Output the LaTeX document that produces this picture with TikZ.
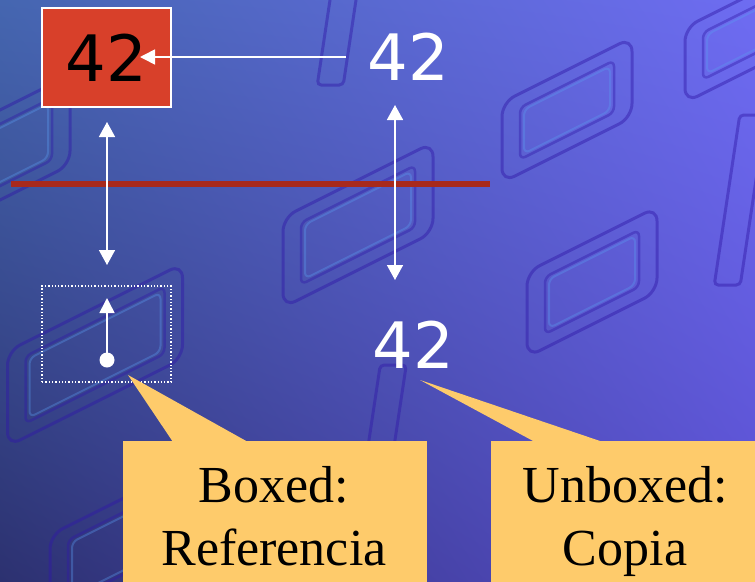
\documentclass[tikz,border=0pt]{standalone}
\usepackage{fontspec}
\setmainfont{Liberation Serif}
\newfontfamily\numfont{DejaVu Sans}
\usetikzlibrary{arrows.meta,shadings}
\definecolor{boxred}{HTML}{D8402A}
\definecolor{linered}{HTML}{A8291C}
\definecolor{callout}{HTML}{FECB6B}
\definecolor{bgUL}{HTML}{4566B0}
\definecolor{bgUR}{HTML}{6E6CF2}
\definecolor{bgLL}{HTML}{2C3170}
\definecolor{bgLR}{HTML}{5A4FD0}
\definecolor{zeroline}{HTML}{3018A8}
\definecolor{zerohi}{HTML}{5A9CF0}
\tikzset{
  numtxt/.style={font=\numfont\fontsize{64}{64}\selectfont, inner sep=0pt},
  warrow/.style={draw=white, line width=1.6pt, -{Triangle[length=15pt,width=15pt]}},
  wdouble/.style={draw=white, line width=1.6pt, {Triangle[length=15pt,width=16pt]}-{Triangle[length=15pt,width=16pt]}},
  calloutbox/.style={fill=callout, inner sep=0pt},
  callouttxt/.style={font=\fontsize{52}{63}\selectfont, align=center, inner sep=0pt, text=black},
  zerooutline/.style={draw=zeroline, line width=3pt, opacity=0.45, rounded corners=14pt},
  zeroinner/.style={draw=zeroline, line width=2.5pt, opacity=0.4, rounded corners=6pt},
  zerohl/.style={draw=zerohi, line width=2pt, opacity=0.35, rounded corners=6pt},
}
\begin{document}
\begin{tikzpicture}[x=1pt,y=-1pt]
\useasboundingbox (0,0) rectangle (755,581);
\begin{scope}
\clip (0,0) rectangle (755,581);
\shade[upper left=bgUL, upper right=bgUR, lower left=bgLL, lower right=bgLR] (0,0) rectangle (755,581);
% decorative digits of the background
\foreach \cx/\cy/\w/\h in {567/110/130/80, 592/282/130/85, 358/225/150/90, 95/355/175/95, 745/35/120/75, 10/150/120/90, 130/540/160/90} {
  \begin{scope}[shift={(\cx,\cy)}, yslant=0.5]
    \draw[zerooutline] (-\w/2,-\h/2) rectangle (\w/2,\h/2);
    \draw[zeroinner] (-\w/2+18,-\h/2+14) rectangle (\w/2-18,\h/2-14);
    \draw[zerohl] (-\w/2+22,-\h/2+18) rectangle (\w/2-22,\h/2-18);
  \end{scope}
}
\foreach \cx/\cy/\l in {337/40/90, 385/420/110, 740/200/170} {
  \begin{scope}[shift={(\cx,\cy)}, xslant=0.15]
    \draw[zerooutline, rounded corners=4pt] (-13,-\l/2) rectangle (13,\l/2);
  \end{scope}
}
\end{scope}

% red separating line
\coordinate (rl1) at (11,184);
\coordinate (rl2) at (490,184);
\draw[linered, line width=6pt] (rl1) -- (rl2);

% boxed value
\node[numtxt, draw=white, line width=1.2pt, fill=boxred, text=black,
      minimum width=129pt, minimum height=99pt] (box) at (106.5,57.5) {42};
% unboxed values
\node[numtxt, text=white] (t42) at (408.5,57) {42};
\node[numtxt, text=white] (b42) at (413.5,345) {42};

% arrows
\coordinate (a1s) at (346,57);
\coordinate (a1e) at (140,57);
\draw[warrow] (a1s) -- (a1e);

\coordinate (l1) at (107,122);
\coordinate (l2) at (107,265);
\draw[wdouble] (l1) -- (l2);

\coordinate (r1) at (395,105);
\coordinate (r2) at (395,280);
\draw[wdouble] (r1) -- (r2);

% reference box
\node[draw=white, dotted, line width=1.3pt, minimum width=129pt, minimum height=96pt, inner sep=0pt] (dbox) at (106.5,334) {};
\node[circle, fill=white, inner sep=0pt, minimum size=15pt] (dot) at (107,360) {};
\coordinate (dtip) at (107,298);
\draw[warrow] (dot.center) -- (dtip);

% callouts
\coordinate (p1) at (128,375);
\fill[callout] (173,442) -- (p1) -- (248,442) -- cycle;
\node[calloutbox, anchor=north west, minimum width=304pt, minimum height=141pt] (c1) at (123,441) {};
\node[callouttxt] (c1t) at (274,516) {Boxed:\\Referencia};

\coordinate (p2) at (420,380);
\fill[callout] (535,442) -- (p2) -- (603,442) -- cycle;
\node[calloutbox, anchor=north west, minimum width=264pt, minimum height=141pt] (c2) at (491,441) {};
\node[callouttxt] (c2t) at (625,521.5) {Unboxed:\\Copia};
\end{tikzpicture}
\end{document}
